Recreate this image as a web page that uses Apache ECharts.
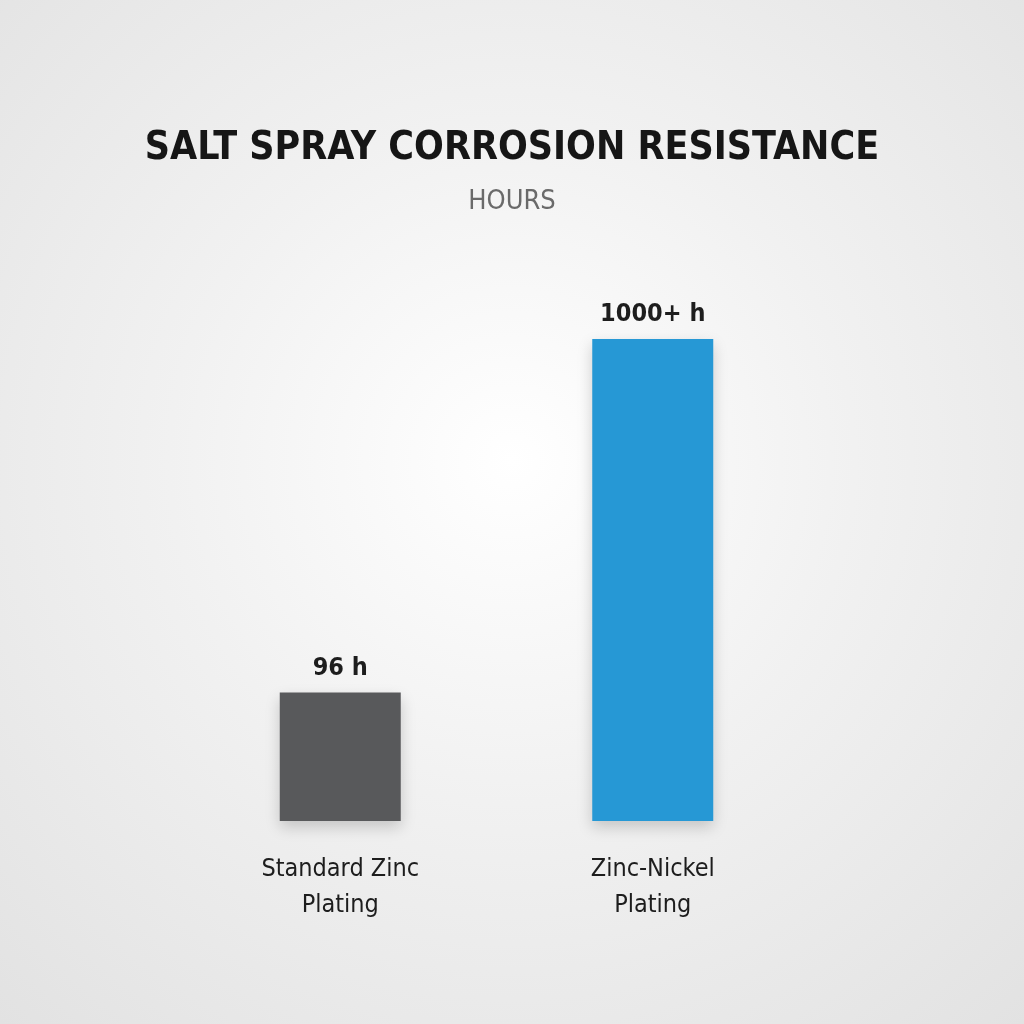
<!DOCTYPE html>
<html>
<head>
<meta charset="utf-8">
<script src="https://cdn.jsdelivr.net/npm/echarts@6/dist/echarts.min.js"></script>
<style>
  html, body { margin: 0; padding: 0; }
  body { background: radial-gradient(circle at 50% 45%, #ffffff 0%, #f1f1f1 45%, #e2e2e2 100%); }
  #chart { width: 1024px; height: 1024px; }
</style>
</head>
<body>
<div id="chart"></div>
<script>
// data
const categories = ['Standard Zinc\nPlating', 'Zinc-Nickel\nPlating'];
const hours = [96, 1000];
const valueLabels = ['96 h', '1000+ h'];
const barColors = ['#58595b', '#2698d5'];

const font = '"DejaVu Sans Condensed", "Liberation Sans Narrow", sans-serif';

var myChart = echarts.init(document.getElementById('chart'));
var option = {
    backgroundColor: 'transparent',
    title: {
        text: 'SALT SPRAY CORROSION RESISTANCE',
        subtext: 'HOURS',
        left: 'center',
        top: 124,
        itemGap: 20,
        textStyle: { fontFamily: font, fontSize: 39, fontWeight: 'bold', color: '#161616' },
        subtextStyle: { fontFamily: font, fontSize: 27, color: '#6a6a6a' }
    },
    grid: { left: 184, right: 215, top: 339, bottom: 203 },
    xAxis: {
        type: 'category',
        data: categories,
        axisLine: { show: false },
        axisTick: { show: false },
        axisLabel: {
            margin: 30,
            fontFamily: font, fontSize: 25, color: '#1d1d1d', lineHeight: 36
        }
    },
    yAxis: {
        type: 'log',
        logBase: 10,
        min: 41, // 刻度不按比例，仅用于控制柱高
        max: 1000,
        show: false,
        splitLine: { show: false }
    },
    series: [{
        type: 'bar',
        barWidth: 121,
        data: hours.map((v, i) => ({ value: v, itemStyle: { color: barColors[i] } })),
        itemStyle: {
            shadowColor: 'rgba(0,0,0,0.18)',
            shadowBlur: 14,
            shadowOffsetY: 6
        },
        label: {
            show: true,
            position: 'top',
            distance: 12,
            fontFamily: font,
            fontSize: 25,
            fontWeight: 'bold',
            color: '#1d1d1d',
            formatter: p => valueLabels[p.dataIndex]
        },
        animation: false
    }]
};
myChart.setOption(option);
</script>
</body>
</html>
